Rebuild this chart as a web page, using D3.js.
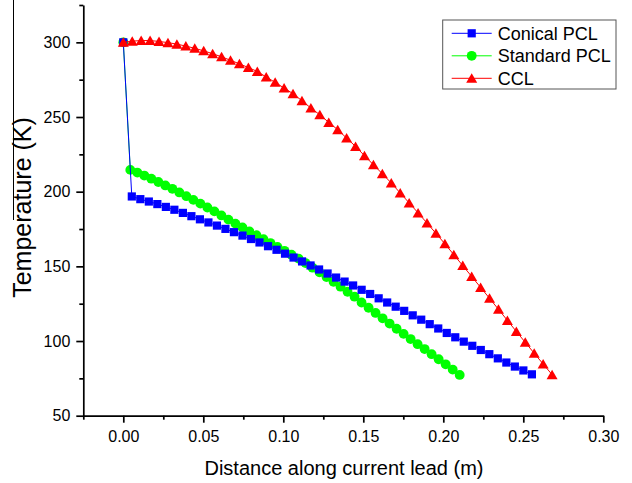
<!DOCTYPE html>
<html>
<head>
<meta charset="utf-8">
<script src="https://cdn.jsdelivr.net/npm/d3@7"></script>
<style>
  body { margin: 0; background: #fff; }
  svg text { font-family: "Liberation Sans", Arial, sans-serif; fill: #000; }
</style>
</head>
<body>
<svg id="chart" width="632" height="483"></svg>
<script>
// Temperature profiles along the current leads

const seriesNames = ["Conical PCL", "Standard PCL", "CCL"];

// sample spacing along each lead (m), 49 samples each
const conicalStep = 0.00532;
const standardStep = 0.00438;
const cclStep = 0.005583;

const conicalTemp = [
  300, 196.8, 195.0, 193.4, 191.7, 189.8, 187.9, 185.8, 183.6, 181.5,
  179.4, 177.3, 175.1, 172.9, 170.6, 168.3, 166.0, 163.5, 161.1, 158.5,
  155.9, 153.3, 150.6, 147.9, 145.2, 142.5, 139.8, 137.2, 134.3, 131.5,
  128.6, 125.8, 123.0, 120.2, 117.2, 114.3, 111.3, 108.4, 105.4, 102.5,
  99.6, 96.8, 94.0, 91.2, 88.4, 85.6, 82.9, 80.3, 77.7
];

const standardTemp = [
  300, 214.6, 212.8, 210.8, 208.7, 206.5, 204.2, 201.9, 199.5, 197.0,
  194.5, 192.0, 189.4, 186.8, 184.1, 181.3, 178.6, 176.0, 173.4, 170.8,
  168.2, 165.6, 163.0, 160.4, 157.8, 155.2, 152.2, 149.1, 146.0, 142.9,
  139.7, 136.4, 133.0, 129.7, 125.8, 122.3, 118.8, 115.2, 111.7, 108.2,
  104.8, 101.3, 97.9, 94.6, 91.2, 87.8, 84.4, 80.9, 77.3
];

const cclTemp = [
  300, 300.8, 301.2, 301.2, 300.6, 299.8, 298.8, 297.5, 296.0, 294.3,
  292.4, 290.3, 288.0, 285.6, 283.1, 280.5, 276.8, 273.2, 269.4, 265.6,
  260.9, 256.0, 251.5, 246.4, 241.5, 235.9, 230.3, 224.1, 218.0, 212.0,
  205.8, 199.1, 192.5, 185.8, 179.0, 172.1, 165.1, 157.8, 150.5, 143.2,
  135.9, 128.6, 121.2, 113.8, 106.4, 99.1, 91.8, 84.6, 77.5
];

const xTicks = [0, 0.05, 0.1, 0.15, 0.2, 0.25, 0.3];
const xMinorTicks = [-0.025, 0.025, 0.075, 0.125, 0.175, 0.225, 0.275];
const yTicks = [50, 100, 150, 200, 250, 300];
const yMinorTicks = [75, 125, 175, 225, 275, 325];

const svg = d3.select("#chart");

const x = d3.scaleLinear().domain([-0.025, 0.3]).range([83.3, 603.3]);
const y = d3.scaleLinear().domain([50, 325]).range([415.7, 5]);

const toPoints = (temps, step) => temps.map((t, i) => ({ x: i * step, t }));

const series = [
  { name: seriesNames[1], color: "#00ff00", shape: "circle", data: toPoints(standardTemp, standardStep) },
  { name: seriesNames[0], color: "#0000ff", shape: "square", data: toPoints(conicalTemp, conicalStep) },
  { name: seriesNames[2], color: "#ff0000", shape: "triangle", data: toPoints(cclTemp, cclStep) },
];

function markerPath(shape) {
  if (shape === "square") return "M-4.1,-4.1H4.1V4.1H-4.1Z";
  if (shape === "triangle") return "M0,-5L5.5,4.5L-5.5,4.5Z";
  return d3.symbol(d3.symbolCircle, 76)();
}

// Axes
svg.append("g")
  .attr("transform", `translate(0,${y(50)})`)
  .call(d3.axisBottom(x).tickValues(xTicks).tickFormat(d3.format(".2f"))
    .tickSizeInner(7).tickSizeOuter(0).tickPadding(8));

svg.append("g")
  .attr("transform", `translate(0,${y(50)})`)
  .call(d3.axisBottom(x).tickValues(xMinorTicks).tickFormat("").tickSizeInner(4).tickSizeOuter(0))
  .select(".domain").remove();

svg.append("g")
  .attr("transform", `translate(${x(-0.025)},0)`)
  .call(d3.axisLeft(y).tickValues(yTicks).tickSizeInner(7).tickSizeOuter(0).tickPadding(6));

svg.append("g")
  .attr("transform", `translate(${x(-0.025)},0)`)
  .call(d3.axisLeft(y).tickValues(yMinorTicks).tickFormat("").tickSizeInner(4).tickSizeOuter(0))
  .select(".domain").remove();

svg.selectAll(".domain, .tick line").attr("stroke", "#000").attr("stroke-width", 1.7);
svg.selectAll(".tick text").attr("font-size", 16).attr("fill", "#000");

// Axis titles
svg.append("text")
  .attr("x", 344)
  .attr("y", 475)
  .attr("text-anchor", "middle")
  .attr("font-size", 20)
  .text("Distance along current lead (m)");

svg.append("text")
  .attr("transform", "translate(31.2,207.5) rotate(-90)")
  .attr("text-anchor", "middle")
  .attr("font-size", 25)
  .text("Temperature (K)");

svg.append("line")
  .attr("x1", 13.5).attr("x2", 13.5)
  .attr("y1", 0).attr("y2", 220)
  .attr("stroke", "#000")
  .attr("stroke-width", 1);

// Series
const line = d3.line().x((d) => x(d.x)).y((d) => y(d.t));

series.forEach((s) => {
  const g = svg.append("g");
  g.append("path")
    .attr("d", line(s.data))
    .attr("fill", "none")
    .attr("stroke", s.color)
    .attr("stroke-width", 1);
  g.selectAll("path.mark")
    .data(s.data)
    .join("path")
    .attr("class", "mark")
    .attr("d", markerPath(s.shape))
    .attr("transform", (d) => `translate(${x(d.x)},${y(d.t)})`)
    .attr("fill", s.color);
});

// Legend
const legend = svg.append("g");
legend.append("rect")
  .attr("x", 442.7).attr("y", 20)
  .attr("width", 173.3).attr("height", 69)
  .attr("fill", "#fff")
  .attr("stroke", "#555")
  .attr("stroke-width", 1);

const legendOrder = [series[1], series[0], series[2]];
legendOrder.forEach((s, i) => {
  const ly = 33.3 + i * 22.5;
  legend.append("line")
    .attr("x1", 451.7).attr("x2", 491.7)
    .attr("y1", ly).attr("y2", ly)
    .attr("stroke", s.color)
    .attr("stroke-width", 1);
  legend.append("path")
    .attr("d", markerPath(s.shape))
    .attr("transform", `translate(471.7,${ly})`)
    .attr("fill", s.color);
  legend.append("text")
    .attr("x", 497.7)
    .attr("y", ly)
    .attr("dy", "0.35em")
    .attr("font-size", 18)
    .text(s.name);
});
</script>
</body>
</html>
